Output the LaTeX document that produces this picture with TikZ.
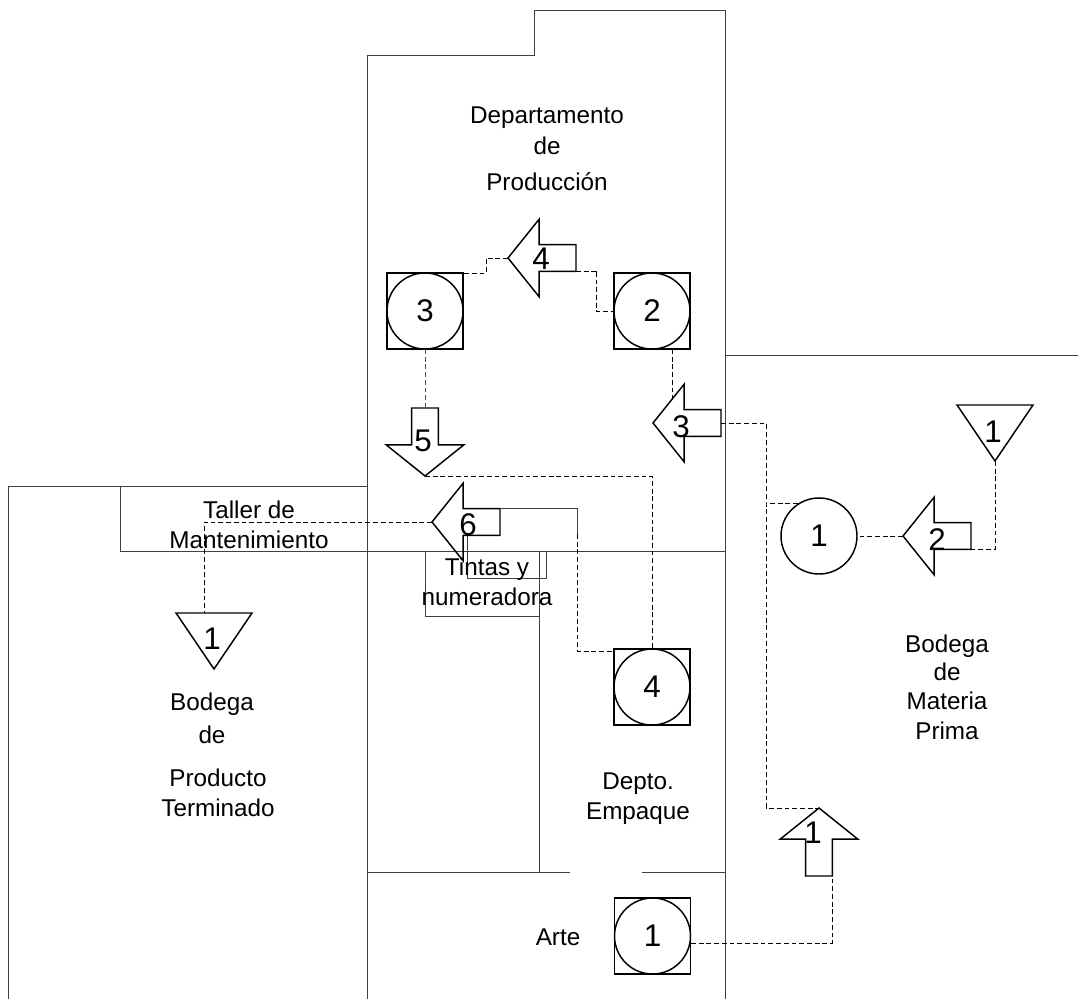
\documentclass[tikz,border=0pt]{standalone}
\usepackage{fontspec}
\setmainfont{Liberation Sans}
\usetikzlibrary{shapes.arrows,shapes.geometric,calc}
\tikzset{
  x=0.75pt,y=-0.75pt,
  wall/.style={draw=black!75,line width=0.7pt,line join=miter},
  flow/.style={draw=black,line width=0.6pt,dash pattern=on 3.6pt off 2.2pt},
  flowsolid/.style={draw=black!75,line width=0.6pt},
  outl/.style={draw=black,line width=1.1pt},
  flowarrow/.style={outl,shape=single arrow,inner xsep=0pt,inner ysep=9.5pt,outer sep=0pt,
    minimum height=51pt,single arrow head extend=19pt,
    single arrow tip angle=102.5,single arrow head indent=0pt,anchor=tip},
  flowarrowv/.style={flowarrow,inner xsep=9.5pt,inner ysep=0pt},
  squarebox/.style={outl,shape=rectangle,inner sep=0pt,outer sep=0pt,minimum size=57pt},
  circbox/.style={outl,shape=circle,inner sep=0pt,outer sep=0pt,minimum size=57pt,font=\fontsize{23.5}{23.5}\selectfont},
  storetri/.style={outl,shape=isosceles triangle,shape border rotate=270,isosceles triangle apex angle=68.3,
    inner sep=0pt,outer sep=0pt,minimum height=42pt,anchor=apex},
  numlabel/.style={inner sep=0pt,font=\fontsize{23.5}{23.5}\selectfont,text height=16.9pt,text depth=0pt},
  txtlabel/.style={inner sep=0pt,font=\fontsize{18.2}{18.2}\selectfont,text height=13.1pt,text depth=0pt},
}
\begin{document}
\begin{tikzpicture}
\useasboundingbox (0,0) rectangle (1078,999);
% walls
\coordinate (pa) at (367,999);
\coordinate (pb) at (367,55);
\coordinate (pc) at (534,55);
\coordinate (pd) at (534,10);
\coordinate (pe) at (725,10);
\coordinate (pf) at (725,999);
\draw[wall] (pa) -- (pb) -- (pc) -- (pd) -- (pe) -- (pf);
\coordinate (ma) at (725,355);
\coordinate (mb) at (1078,355);
\draw[wall] (ma) -- (mb);
\coordinate (la) at (8,999);
\coordinate (lb) at (8,486);
\coordinate (lc) at (367,486);
\draw[wall] (la) -- (lb) -- (lc);
\coordinate (ta) at (120,486);
\coordinate (tb) at (120,551);
\coordinate (tc) at (725,551);
\draw[wall] (ta) -- (tb) -- (tc);
\coordinate (ba) at (425,551);
\coordinate (bb) at (425,616);
\coordinate (bc) at (539,616);
\coordinate (bd) at (539,551);
\coordinate (be) at (539,872);
\draw[wall] (ba) -- (bb) -- (bc);
\draw[wall] (bd) -- (be);
\coordinate (ia) at (467,535);
\coordinate (ib) at (467,578);
\coordinate (ic) at (546,578);
\coordinate (id) at (546,551);
\draw[wall] (ia) -- (ib) -- (ic) -- (id);
\coordinate (ha) at (367,872);
\coordinate (hb) at (570,872);
\coordinate (hc) at (642,872);
\coordinate (hd) at (725,872);
\draw[wall] (ha) -- (hb);
\draw[wall] (hc) -- (hd);
% operations
\node[squarebox] (S1) at (652.5,936) {};
\node[circbox] (C1) at (652.5,936) {1};
\node[squarebox] (S2) at (652,311) {};
\node[circbox] (C2) at (652,311) {2};
\node[squarebox] (S3) at (425,311) {};
\node[circbox] (C3) at (425,311) {3};
\node[squarebox] (S4) at (652,687) {};
\node[circbox] (C4) at (652,687) {4};
\node[circbox] (OP) at (819,536) {1};
% arrows
\node[flowarrowv,shape border rotate=90] (A1) at (819,808) {};
\node[flowarrow,shape border rotate=180] (A2) at (903,536) {};
\node[flowarrow,shape border rotate=180] (A3) at (653,423) {};
\node[flowarrow,shape border rotate=180] (A4) at (508,258) {};
\node[flowarrowv,shape border rotate=270] (A5) at (425,476) {};
\node[flowarrow,shape border rotate=180] (A6) at (432,522) {};
% storage triangles
\node[storetri] (T1) at (995,461) {};
\node[storetri] (T2) at (214,669) {};
% digits
\node[numlabel] (nA1) at (813,832) {1};
\node[numlabel] (nA2) at (937,539) {2};
\node[numlabel] (nA3) at (681,426) {3};
\node[numlabel] (nA4) at (541,258) {4};
\node[numlabel] (nA5) at (423,440) {5};
\node[numlabel] (nA6) at (468,524) {6};
\node[numlabel] (nT1) at (993,431) {1};
\node[numlabel] (nT2) at (212,638) {1};
% connectors
\coordinate (j1) at (766,423);
\coordinate (j2) at (766,503);
\coordinate (j3) at (798,503);
\draw[flow] (T1.apex) |- (A2.after tail);
\draw[flow] (A2.tip) -- (OP.east);
\draw[flow] (j3) -- (j2);
\draw[flow] (A3.tail) -- (j1) -- (j2) |- (A1.tip);
\coordinate (k0) at (691,943);
\draw[flow] (k0) -| (A1.before tail);
\coordinate (n1) at (672,349);
\coordinate (n2) at (672,398);
\draw[flow] (n1) -- (n2);
\coordinate (q1) at (596,270);
\draw[flow] (A4.after tail) -| (q1) |- (S2.west);
\coordinate (r1) at (486,258);
\draw[flow] (A4.tip) -| (r1) |- (S3.north east);
\draw[flow,draw=black!70] (S3.south) -- (A5.tail);
\draw[flow] (A5.tip) -| (S4.north);
\coordinate (v2) at (204,613);
\draw[flow] (A6.tip) -| (v2);
\coordinate (w2) at (577,534);
\coordinate (w4) at (614,651);
\draw[flowsolid] (A6.before tail) -| (w2);
\draw[flow] (w2) |- (w4);
% text
\node[txtlabel] (d1) at (547,115) {Departamento};
\node[txtlabel] (d2) at (547,146) {de};
\node[txtlabel] (d3) at (547,182) {Producción};
\node[txtlabel] (m1) at (249,510) {Taller de};
\node[txtlabel] (m2) at (249,540) {Mantenimiento};
\node[txtlabel] (i1) at (487,567) {Tintas y};
\node[txtlabel] (i2) at (487,597) {numeradora};
\node[txtlabel] (p1) at (212,702) {Bodega};
\node[txtlabel] (p2) at (212,735) {de};
\node[txtlabel] (p3) at (218,778) {Producto};
\node[txtlabel] (p4) at (218,808) {Terminado};
\node[txtlabel] (b1) at (947,644) {Bodega};
\node[txtlabel] (b2) at (947,672) {de};
\node[txtlabel] (b3) at (947,701) {Materia};
\node[txtlabel] (b4) at (947,731) {Prima};
\node[txtlabel] (e1) at (638,781) {Depto.};
\node[txtlabel] (e2) at (638,811) {Empaque};
\node[txtlabel] (a1) at (558,937) {Arte};
\end{tikzpicture}
\end{document}
